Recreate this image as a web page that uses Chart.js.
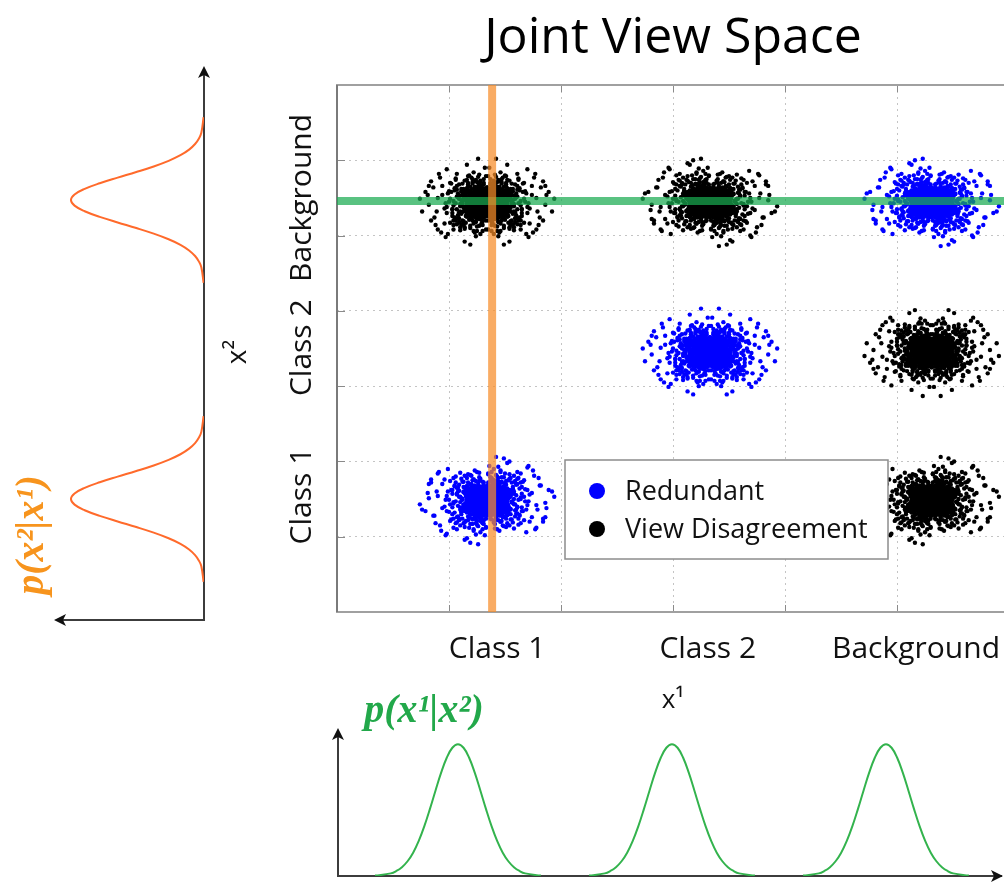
<!DOCTYPE html>
<html><head><meta charset="utf-8">
<script src="https://cdn.jsdelivr.net/npm/chart.js@4.4.1/dist/chart.umd.min.js"></script>
<style>
html,body{margin:0;padding:0;background:#fff;overflow:hidden;width:1004px;height:883px;}
canvas{position:absolute;display:block;}
</style></head><body>
<canvas id="main" width="1040" height="883" style="left:0;top:0"></canvas>
<canvas id="left" width="300" height="700" style="left:0;top:0"></canvas>
<canvas id="bottom" width="704" height="203" style="left:300px;top:680px"></canvas>
<script>
// ---------- data ----------
const titleText = 'Joint View Space';
const xCategories = ['Class 1', 'Class 2', 'Background'];
const yCategories = ['Class 1', 'Class 2', 'Background'];
const xLabelPos = [1.43, 3.31, 5.17];
const yLabelPos = [1.54, 3.51, 5.50];
const clusterX = [1.34, 3.33, 5.31];
const clusterY = [1.48, 3.45, 5.44];
const redundantCells = [[0, 0], [1, 1], [2, 2]];
const disagreementCells = [[0, 2], [1, 2], [2, 1], [2, 0]];
const seriesNames = ['Redundant', 'View Disagreement'];
const orangeX = 1.385;
const greenY = 5.46;
// scatter cloud shape (hundredths of an axis unit): outer spread + dense core
const cloudOffsets = [
[3,-5],[-12,8],[20,14],[-7,-22],[15,-3],[-25,5],[9,27],[-2,-11],[31,-9],[-18,-16],
[6,18],[-9,2],[12,-28],[-30,-4],[24,9],[1,35],[-15,21],[18,-19],[-4,-2],[8,6],
[-21,-30],[27,22],[-11,-8],[14,3],[-1,-36],[-35,12],[11,-14],[-6,29],[22,-1],[-17,-5],
[4,11],[-27,17],[33,5],[-8,-17],[17,26],[-13,-24],[2,-7],[-20,10],[10,19],[-3,24],
[29,-20],[-24,-12],[7,-31],[-10,14],[19,8],[-31,-18],[13,31],[-5,-28],[25,-13],[-16,0],
[0,9],[-22,25],[36,-6],[-9,-32],[16,15],[-28,-1],[5,-16],[-14,33],[21,-25],[-2,4],
[40,10],[-38,-8],[12,40],[-6,-42],[28,30],[-33,26],[9,-38],[-19,-27],[23,18],[-11,20],
[3,-20],[-26,-21],[15,12],[-4,16],[30,2],[-13,-13],[7,23],[-23,3],[18,-9],[-8,-4],
[1,-3],[-16,12],[26,-17],[-29,19],[11,0],[-7,37],[20,-33],[-36,-14],[6,27],[-1,-24],
[34,15],[-20,-35],[14,-22],[-12,28],[24,-5],[-25,-26],[8,34],[-5,7],[17,21],[-19,-10],
[45,-12],[-44,6],[2,46],[-10,-45],[38,-28],[-40,22],[27,38],[-30,-36],[48,20],[-47,-20],
[0,-14],[-15,-19],[13,25],[-3,-9],[22,11],[-18,30],[10,-26],[-27,8],[31,-14],[-9,18],
[5,2],[-11,-1],[16,-6],[-6,10],[9,-11],[-14,6],[19,3],[-2,15],[12,14],[-8,-13],
[4,-25],[-21,-7],[25,24],[-32,14],[7,-5],[-4,-30],[28,-24],[-17,24],[15,-34],[-24,-33],
[37,-1],[-34,1],[3,31],[-12,-38],[20,29],[-28,32],[11,-40],[-22,-24],[32,25],[-7,26],
[6,-9],[-19,15],[21,-12],[-5,-19],[14,9],[-23,-15],[8,16],[-10,-25],[26,7],[-15,-31],
[-1,1],[2,-1],[-3,3],[4,5],[-5,-6],[7,-8],[-9,10],[10,-2],[-12,-3],[13,7],
[52,-3],[-53,10],[42,33],[-46,-30],[18,50],[-20,-52],[55,14],[-50,28],[35,-42],[-41,-40],
[0,20],[-13,27],[17,-16],[-26,12],[23,-29],[-6,-16],[29,16],[-31,-9],[9,4],[-4,-38],
[16,36],[-17,35],[24,-37],[-33,-27],[12,-19],[-8,22],[19,-8],[-14,-7],[27,-9],[-21,18],
[5,13],[-2,-17],[11,21],[-9,-21],[18,0],[-16,-23],[21,5],[-11,11],[14,-17],[-7,-10],
[3,26],[-24,-2],[30,-30],[-30,-24],[10,30],[-18,4],[25,-21],[-27,-29],[13,-1],[-3,13],
[60,5],[-58,-12],[8,58],[-15,-56],[44,-36],[-43,38],[36,44],[-37,-46],[50,-24],[-52,22],
[2,3],[-4,7],[8,-2],[-10,-5],[5,12],[-1,-9],[12,6],[-7,14],[3,-15],[-13,1],
[9,10],[-6,-12],[15,-7],[-16,9],[0,16],[6,-5],[-9,4],[11,-11],[-3,11],[14,13],
[-12,-14],[4,-1],[-5,2],[17,1],[-18,-3],[1,-18],[7,8],[-8,-7],[10,15],[-14,12],
[13,-16],[-2,6],[5,-8],[-11,10],[18,-4],[-17,-10],[3,19],[-6,-17],[16,9],[-15,-1],
[0,-4],[8,3],[-3,-3],[11,1],[-10,8],[6,14],[-4,-13],[14,-10],[-19,6],[2,9],
[9,-14],[-7,1],[20,5],[-20,-6],[4,17],[-1,-16],[12,11],[-13,-9],[7,-19],[-9,17],
[1,5],[-2,-2],[3,-6],[-5,-1],[6,1],[-8,11],[10,-6],[-12,4],[13,3],[-15,15],
[15,-13],[-16,-13],[5,20],[-3,-20],[19,12],[-21,11],[8,-11],[-6,7],[11,17],[-11,-17],
[22,-2],[-22,2],[0,12],[2,-12],[-4,18],[4,-19],[16,15],[-17,16],[18,-14],[-18,-15],
[7,5],[-9,-4],[12,-3],[-14,6],[9,19],[-10,-20],[14,7],[-13,13],[6,-15],[-7,-8],
[1,-1],[-1,2],[3,4],[-3,-5],[5,-3],[-6,4],[8,7],[-8,-9],[10,2],[-11,-2],
[21,8],[-20,-11],[17,-8],[-19,13],[23,15],[-23,-14],[6,23],[-5,-23],[19,-18],[-18,19],
[2,14],[-4,-10],[13,-1],[-12,-6],[9,5],[-7,9],[15,3],[-16,1],[4,-9],[-2,13],
[11,-18],[-10,15],[7,11],[-9,-12],[18,0],[-17,4],[3,-11],[-5,12],[14,18],[-15,-18]
];
// each cluster is drawn from two mirrorings of the cloud shape
const cloudFlips = [[1, 1], [-1, 1], [1, -1], [-1, -1]];
// density curve profile (read from the bumps)
const profileOffset = [-0.74,-0.6,-0.55,-0.5,-0.45,-0.4,-0.35,-0.3,-0.25,-0.2,-0.15,-0.1,-0.05,0,0.05,0.1,0.15,0.2,0.25,0.3,0.35,0.4,0.45,0.5,0.55,0.6,0.74];
const profileHeight = [0.003,0.02,0.038,0.067,0.112,0.177,0.266,0.378,0.509,0.649,0.784,0.897,0.973,1,0.973,0.897,0.784,0.649,0.509,0.378,0.266,0.177,0.112,0.067,0.038,0.02,0.003];
const leftPeaks = [3.75, 1.08];
const bottomPeaks = [1.071, 2.982, 4.893];
const leftLabel = 'p(x²|x¹)';
const bottomLabel = 'p(x¹|x²)';
const x1Label = 'x¹';
const x2Label = 'x²';

// ---------- build ----------
function buildCloud(cells, flipStart) {
  const pts = [];
  cells.forEach((c, k) => {
    [0, 3].forEach(s => {
      const f = cloudFlips[(k + flipStart + s) % cloudFlips.length];
      cloudOffsets.forEach(o => pts.push({x: clusterX[c[0]] + f[0] * o[0] / 100, y: clusterY[c[1]] + f[1] * o[1] / 100}));
    });
  });
  return pts;
}
const FONT = "'Open Sans', 'DejaVu Sans', sans-serif";
const SERIF = "'Liberation Serif', 'DejaVu Serif', serif";

const framePlugin = {
  id: 'frame',
  beforeDatasetsDraw(chart) {
    const {ctx, chartArea: a, scales} = chart;
    ctx.save();
    ctx.strokeStyle = '#8a8a8a';
    ctx.lineWidth = 1;
    scales.x.ticks.forEach(t => {
      if (t.value <= 0 || t.value >= 6) return;
      const px = Math.round(scales.x.getPixelForValue(t.value)) + 0.5;
      ctx.beginPath(); ctx.moveTo(px, a.bottom); ctx.lineTo(px, a.bottom - 7); ctx.stroke();
      ctx.beginPath(); ctx.moveTo(px, a.top); ctx.lineTo(px, a.top + 7); ctx.stroke();
    });
    scales.y.ticks.forEach(t => {
      if (t.value <= 0 || t.value >= 7) return;
      const py = Math.round(scales.y.getPixelForValue(t.value)) + 0.5;
      ctx.beginPath(); ctx.moveTo(a.left, py); ctx.lineTo(a.left + 8, py); ctx.stroke();
    });
    ctx.lineWidth = 2;
    ctx.strokeStyle = '#a0a0a0';
    ctx.strokeRect(a.left, a.top, a.right - a.left, a.bottom - a.top);
    ctx.strokeStyle = '#7a7a7a';
    ctx.beginPath(); ctx.moveTo(a.left, a.top); ctx.lineTo(a.left, a.bottom); ctx.stroke();
    ctx.restore();
  }
};

const legendPlugin = {
  id: 'boxLegend',
  afterDraw(chart) {
    const {ctx, chartArea: a} = chart;
    const bx = a.left + 228, by = a.top + 375, bw = 323, bh = 99;
    ctx.save();
    ctx.fillStyle = '#fff';
    ctx.fillRect(bx, by, bw, bh);
    ctx.strokeStyle = '#8c8c8c';
    ctx.lineWidth = 1.5;
    ctx.strokeRect(bx, by, bw, bh);
    const items = chart.data.datasets.filter(d => seriesNames.includes(d.label));
    items.forEach((d, i) => {
      const cy = by + 31 + i * 38;
      ctx.fillStyle = d.backgroundColor;
      ctx.beginPath(); ctx.arc(bx + 32, cy, 8, 0, Math.PI * 2); ctx.fill();
      ctx.fillStyle = '#111';
      ctx.font = '27px ' + FONT;
      ctx.textBaseline = 'middle';
      ctx.textAlign = 'left';
      ctx.fillText(d.label, bx + 60, cy + 1);
    });
    ctx.restore();
  }
};

const yLabelPlugin = {
  id: 'yLabels',
  afterDraw(chart) {
    const {ctx, scales} = chart;
    ctx.save();
    ctx.fillStyle = '#111';
    ctx.font = '30px ' + FONT;
    ctx.textAlign = 'center';
    ctx.textBaseline = 'middle';
    yCategories.forEach((lab, i) => {
      const py = scales.y.getPixelForValue(yLabelPos[i]);
      ctx.save(); ctx.translate(302, py); ctx.rotate(-Math.PI / 2); ctx.fillText(lab, 0, 0); ctx.restore();
    });
    ctx.restore();
  }
};

const gridColor = c => (c.tick && (c.tick.value <= 0 || c.tick.value >= c.scale.max)) ? 'rgba(0,0,0,0)' : '#c4c4c4';

new Chart(document.getElementById('main'), {
  type: 'scatter',
  data: {
    datasets: [
      {label: 'guide1', data: [{x: orangeX, y: 0}, {x: orangeX, y: 7}], showLine: true, borderColor: 'rgba(247,140,40,0.72)', borderWidth: 8, pointRadius: 0, order: 0},
      {label: 'guide2', data: [{x: 0, y: greenY}, {x: 6, y: greenY}], showLine: true, borderColor: 'rgba(25,170,80,0.72)', borderWidth: 8, pointRadius: 0, order: 0},
      {label: seriesNames[0], data: buildCloud(redundantCells, 0), backgroundColor: '#0000ff', pointRadius: 2.2, borderWidth: 0, order: 1},
      {label: seriesNames[1], data: buildCloud(disagreementCells, 1), backgroundColor: '#000000', pointRadius: 2.2, borderWidth: 0, order: 1}
    ]
  },
  options: {
    responsive: false, animation: false, events: [],
    layout: {padding: {left: 337, right: 31, top: 0, bottom: 131}},
    plugins: {
      legend: {display: false}, tooltip: {enabled: false},
      title: {display: true, text: titleText, color: '#000', font: {family: FONT, size: 50, weight: 'normal'}, padding: {top: 8.7, bottom: 16.3}}
    },
    scales: {
      x: {type: 'linear', min: 0, max: 6, ticks: {display: false, stepSize: 1}, grid: {drawTicks: false, color: gridColor, lineWidth: 1}, border: {display: false, dash: [2, 4]}},
      y: {type: 'linear', min: 0, max: 7, ticks: {display: false, stepSize: 1}, grid: {drawTicks: false, color: gridColor, lineWidth: 1}, border: {display: false, dash: [2, 4]}},
      xl: {
        type: 'linear', position: 'bottom', min: 0, max: 6,
        afterBuildTicks: s => { s.ticks = xLabelPos.map(v => ({value: v})); },
        afterFit: s => { s.height = 140; },
        ticks: {callback: (v, i) => xCategories[i], color: '#111', font: {family: FONT, size: 30}, padding: 19, autoSkip: false, maxRotation: 0, minRotation: 0},
        grid: {display: false, drawTicks: false}, border: {display: false},
        title: {display: true, text: x1Label, color: '#111', font: {family: FONT, size: 26}, padding: {top: 0, bottom: 36}}
      }
    }
  },
  plugins: [framePlugin, legendPlugin, yLabelPlugin]
});

function arrow(ctx, x, y, dir) {
  ctx.save();
  ctx.translate(x, y);
  ctx.rotate(dir);
  ctx.fillStyle = '#111';
  ctx.beginPath(); ctx.moveTo(0, 0); ctx.lineTo(-12, -6); ctx.lineTo(-9, 0); ctx.lineTo(-12, 6); ctx.closePath(); ctx.fill();
  ctx.restore();
}

const leftDecor = {
  id: 'leftDecor',
  afterDraw(chart) {
    const {ctx, chartArea: a} = chart;
    arrow(ctx, a.right, a.top - 3, -Math.PI / 2);
    arrow(ctx, a.left - 3, a.bottom, Math.PI);
    ctx.save();
    ctx.textAlign = 'center'; ctx.textBaseline = 'middle';
    ctx.fillStyle = '#111'; ctx.font = '28px ' + FONT;
    ctx.save(); ctx.translate(238, 352); ctx.rotate(-Math.PI / 2); ctx.fillText(x2Label, 0, 0); ctx.restore();
    ctx.fillStyle = '#f7941d'; ctx.font = 'italic bold 40px ' + SERIF;
    ctx.save(); ctx.translate(33, 535); ctx.rotate(-Math.PI / 2); ctx.fillText(leftLabel, 0, 0); ctx.restore();
    ctx.restore();
  }
};

const axisStyle = {ticks: {display: false}, grid: {display: false, drawTicks: false}, border: {display: true, color: '#3c3c3c', width: 2}};

new Chart(document.getElementById('left'), {
  type: 'scatter',
  data: {datasets: leftPeaks.map(p => ({data: profileOffset.map((o, i) => ({x: profileHeight[i], y: p + o})), showLine: true, borderColor: '#ff6a2b', borderWidth: 2, pointRadius: 0, tension: 0.4}))},
  options: {
    responsive: false, animation: false, events: [],
    layout: {padding: {left: 57, top: 69, right: 96, bottom: 80}},
    plugins: {legend: {display: false}, tooltip: {enabled: false}},
    scales: {
      x: Object.assign({type: 'linear', reverse: true, min: 0, max: 1.105}, axisStyle),
      y: Object.assign({type: 'linear', position: 'right', min: 0, max: 4.92}, axisStyle)
    }
  },
  plugins: [leftDecor]
});

const bottomDecor = {
  id: 'bottomDecor',
  afterDraw(chart) {
    const {ctx, chartArea: a} = chart;
    arrow(ctx, a.left, a.top - 3, -Math.PI / 2);
    arrow(ctx, a.right + 2, a.bottom, 0);
    ctx.save();
    ctx.textAlign = 'center'; ctx.textBaseline = 'middle';
    ctx.fillStyle = '#22a84a'; ctx.font = 'italic bold 40px ' + SERIF;
    ctx.fillText(bottomLabel, 124, 32);
    ctx.restore();
  }
};

new Chart(document.getElementById('bottom'), {
  type: 'scatter',
  data: {datasets: bottomPeaks.map(p => ({data: profileOffset.map((o, i) => ({x: p + o, y: profileHeight[i]})), showLine: true, borderColor: '#33b34d', borderWidth: 2, pointRadius: 0, tension: 0.4}))},
  options: {
    responsive: false, animation: false, events: [],
    layout: {padding: {left: 38, top: 51, right: 3, bottom: 7}},
    plugins: {legend: {display: false}, tooltip: {enabled: false}},
    scales: {
      x: Object.assign({type: 'linear', min: 0, max: 5.92}, axisStyle),
      y: Object.assign({type: 'linear', min: 0, max: 1.1}, axisStyle)
    }
  },
  plugins: [bottomDecor]
});
</script>
</body></html>
